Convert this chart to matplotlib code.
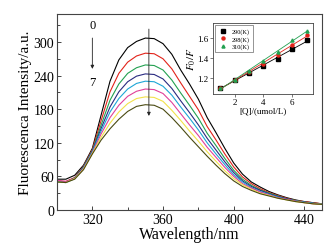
import numpy as np
import matplotlib
matplotlib.use("Agg")
import matplotlib.pyplot as plt
from matplotlib.ticker import MultipleLocator

plt.rcParams['font.family'] = ['Liberation Serif', 'DejaVu Serif']
plt.rcParams['mathtext.fontset'] = 'stix'

# --- data: emission spectra (0 -> 7) ---
wavelength = [300, 305, 310, 315, 320, 325, 330, 335, 340, 345, 350, 355, 360, 365, 370, 375,
              380, 385, 390, 395, 400, 405, 410, 415, 420, 425, 430, 435, 440, 445, 450]

spec0 = [55, 55, 62, 80, 110, 170, 230, 268, 290, 301, 307, 306, 297, 278, 250, 225,
         198, 165, 138, 110, 84, 64, 50, 41, 33, 27, 22, 18, 15, 13, 11]
spec1 = [52, 51, 58, 78, 108, 160, 211, 244, 264, 275, 280, 279, 270, 252, 227, 203,
         179, 149, 125, 100, 77, 59, 47, 38, 31, 26, 21, 17, 15, 13, 11]
spec2 = [51, 50, 57, 77, 106, 152, 196, 225, 244, 254, 259, 258, 250, 232, 209, 187,
         164, 137, 115, 92, 71, 55, 44, 36, 30, 25, 20, 17, 14, 12, 11]
spec3 = [52, 50, 57, 76, 105, 146, 184, 211, 229, 239, 243, 242, 234, 217, 195, 174,
         152, 128, 107, 86, 67, 52, 42, 35, 29, 24, 20, 16, 14, 12, 10]
spec4 = [50, 49, 56, 75, 104, 141, 175, 199, 216, 226, 230, 229, 221, 205, 184, 164,
         143, 120, 100, 81, 63, 50, 40, 33, 28, 23, 19, 16, 14, 12, 10]
spec5 = [53, 51, 56, 74, 102, 136, 165, 187, 203, 212, 216, 215, 208, 192, 172, 152,
         133, 112, 94, 76, 60, 47, 39, 32, 27, 22, 19, 16, 13, 11, 10]
spec6 = [50, 49, 56, 73, 101, 130, 155, 175, 190, 199, 202, 201, 194, 178, 160, 141,
         123, 104, 87, 70, 56, 45, 37, 30, 26, 21, 18, 15, 13, 11, 10]
spec7 = [50, 49, 55, 72, 100, 125, 145, 162, 176, 185, 188, 187, 180, 165, 148, 130,
         113, 96, 80, 65, 52, 42, 35, 29, 25, 21, 18, 15, 13, 11, 10]

spectra = [spec0, spec1, spec2, spec3, spec4, spec5, spec6, spec7]
spec_colors = ['#000000', '#e2231a', '#22a050', '#2a2a80', '#1ea6d6', '#e0409a', '#f2e24a', '#4a4a12']

# --- data: inset Stern-Volmer ---
conc = [1, 2, 3, 4, 5, 6, 7]
f_290 = [1.10, 1.18, 1.25, 1.316, 1.39, 1.49, 1.58]
f_298 = [1.10, 1.18, 1.26, 1.34, 1.43, 1.53, 1.63]
f_310 = [1.10, 1.18, 1.27, 1.37, 1.46, 1.58, 1.67]
temps = ['290(K)', '298(K)', '310(K)']

fig = plt.figure(figsize=(3.34, 2.51), dpi=100)
ax = fig.add_axes([0.1707, 0.1594, 0.7934, 0.7809])

for s, c in zip(spectra, spec_colors):
    ax.plot(wavelength, s, color=c, lw=0.8)

ax.set_xlim(300, 450)
ax.set_ylim(0, 350)
ax.xaxis.set_minor_locator(MultipleLocator(20))
ax.set_xticks([320, 360, 400, 440])
ax.yaxis.set_minor_locator(MultipleLocator(30))
ax.set_yticks([0, 60, 120, 180, 240, 300])
ax.tick_params(which='both', direction='in', labelsize=10, width=0.7, color='#444444', pad=2)
ax.tick_params(which='major', length=3)
ax.tick_params(which='minor', length=2)
for sp in ax.spines.values():
    sp.set_color('#444444')
    sp.set_linewidth(0.8)

ax.set_xlabel('Wavelength/nm', fontsize=11.5, labelpad=0)
ax.set_ylabel('Fluorescenca Intensity/a.u.', fontsize=11, labelpad=1)

# arrows
ax.annotate('', xy=(352, 163), xytext=(352, 328),
            arrowprops=dict(arrowstyle='-|>', color='#222222', lw=0.6, mutation_scale=5))
ax.annotate('', xy=(320, 247), xytext=(320, 312),
            arrowprops=dict(arrowstyle='-|>', color='#222222', lw=0.6, mutation_scale=5))
ax.text(320, 320, '0', ha='center', va='bottom', fontsize=9)
ax.text(320, 240, '7', ha='center', va='top', fontsize=9)

# --- inset ---
ins = fig.add_axes([0.6377, 0.6215, 0.2994, 0.2829])
ins_data = [(f_290, '#000000', 's'), (f_298, '#e2231a', 'o'), (f_310, '#22a050', '^')]
for (f, c, m), lab in zip(ins_data, temps):
    k, b = np.polyfit(conc, f, 1)
    ins.plot([conc[0], conc[-1]], [k * conc[0] + b, k * conc[-1] + b], color=c, lw=0.6)
    ins.plot(conc, f, ls='none', marker=m, ms=2.2, color=c, mec=c, label=lab)

ins.set_xlim(0.5, 7.45)
ins.set_ylim(1.04, 1.75)
ins.set_xticks([2, 4, 6])
ins.set_yticks([1.2, 1.4, 1.6])
ins.tick_params(direction='out', length=2, width=0.5, labelsize=6.5, pad=1, color='#444444')
for sp in ins.spines.values():
    sp.set_color('#444444')
    sp.set_linewidth(0.6)
ins.set_xlabel('[Q]/(umol/L)', fontsize=6.5, labelpad=0)
ins.set_ylabel('$F_0/F$', fontsize=8, labelpad=0)
leg = ins.legend(loc='upper left', fontsize=4.5, frameon=True, fancybox=False, handlelength=1.5,
                 handletextpad=0.6, borderpad=0.5, labelspacing=0.25, borderaxespad=0.4)
leg.get_frame().set_edgecolor('#444444')
leg.get_frame().set_linewidth(0.5)

fig.savefig('out.png', dpi=100, facecolor='white')
